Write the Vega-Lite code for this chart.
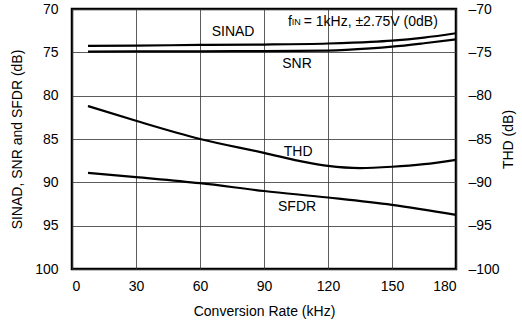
{
  "$schema": "https://vega.github.io/schema/vega-lite/v6.json",
  "width": 384,
  "height": 260,
  "autosize": "none",
  "padding": {"left": 72, "top": 9, "right": 66, "bottom": 54},
  "background": "white",
  "config": {
    "view": {"stroke": "black", "strokeWidth": 2.5},
    "font": "Liberation Sans",
    "axis": {"labelFont": "Liberation Sans", "titleFont": "Liberation Sans", "labelColor": "black", "titleColor": "black", "titleFontWeight": "normal", "labelFontSize": 14, "titleFontSize": 14, "domain": false, "ticks": false, "gridColor": "#333", "gridOpacity": 0.8, "gridWidth": 1}
  },
  "datasets": {
    "curves": [
      {"rate": 7.5, "db": 74.25, "series": "SINAD"},
      {"rate": 30, "db": 74.22, "series": "SINAD"},
      {"rate": 60, "db": 74.15, "series": "SINAD"},
      {"rate": 90, "db": 74.1, "series": "SINAD"},
      {"rate": 120, "db": 73.98, "series": "SINAD"},
      {"rate": 140, "db": 73.8, "series": "SINAD"},
      {"rate": 150, "db": 73.65, "series": "SINAD"},
      {"rate": 165, "db": 73.3, "series": "SINAD"},
      {"rate": 180, "db": 72.8, "series": "SINAD"},
      {"rate": 7.5, "db": 74.92, "series": "SNR"},
      {"rate": 30, "db": 74.9, "series": "SNR"},
      {"rate": 60, "db": 74.88, "series": "SNR"},
      {"rate": 90, "db": 74.85, "series": "SNR"},
      {"rate": 120, "db": 74.8, "series": "SNR"},
      {"rate": 140, "db": 74.55, "series": "SNR"},
      {"rate": 150, "db": 74.35, "series": "SNR"},
      {"rate": 165, "db": 73.95, "series": "SNR"},
      {"rate": 180, "db": 73.5, "series": "SNR"},
      {"rate": 7.5, "db": 81.2, "series": "THD"},
      {"rate": 30, "db": 82.9, "series": "THD"},
      {"rate": 60, "db": 85.0, "series": "THD"},
      {"rate": 90, "db": 86.6, "series": "THD"},
      {"rate": 110, "db": 87.7, "series": "THD"},
      {"rate": 120, "db": 88.1, "series": "THD"},
      {"rate": 135, "db": 88.35, "series": "THD"},
      {"rate": 150, "db": 88.2, "series": "THD"},
      {"rate": 165, "db": 87.9, "series": "THD"},
      {"rate": 180, "db": 87.4, "series": "THD"},
      {"rate": 7.5, "db": 88.9, "series": "SFDR"},
      {"rate": 30, "db": 89.4, "series": "SFDR"},
      {"rate": 60, "db": 90.1, "series": "SFDR"},
      {"rate": 90, "db": 91.0, "series": "SFDR"},
      {"rate": 120, "db": 91.75, "series": "SFDR"},
      {"rate": 150, "db": 92.6, "series": "SFDR"},
      {"rate": 180, "db": 93.75, "series": "SFDR"}
    ],
    "labels": [
      {"rate": 75.5, "db": 72.6, "text": "SINAD"},
      {"rate": 105.5, "db": 76.3, "text": "SNR"},
      {"rate": 106, "db": 86.5, "text": "THD"},
      {"rate": 105.5, "db": 92.8, "text": "SFDR"}
    ],
    "note": [
      {"rate": 101.2, "db": 71.5, "text": "f", "size": 14, "dy": 0},
      {"rate": 103.0, "db": 71.5, "text": "IN", "size": 9, "dy": 4},
      {"rate": 108.6, "db": 71.5, "text": "= 1kHz, ±2.75V (0dB)", "size": 14, "dy": 0}
    ]
  },
  "layer": [
    {
      "data": {"name": "curves"},
      "mark": {"type": "line", "color": "black", "strokeWidth": 2.2, "interpolate": "monotone"},
      "encoding": {
        "x": {"field": "rate", "type": "quantitative", "scale": {"domain": [0, 180], "nice": false}, "axis": {"values": [0, 30, 60, 90, 120, 150, 180], "title": "Conversion Rate (kHz)", "labelPadding": 10, "titlePadding": 11, "grid": true}},
        "y": {"field": "db", "type": "quantitative", "scale": {"domain": [70, 100], "reverse": true, "nice": false}, "axis": {"orient": "left", "values": [70, 75, 80, 85, 90, 95, 100], "title": "SINAD, SNR and SFDR (dB)", "labelPadding": 14, "titlePadding": 10, "grid": true}},
        "detail": {"field": "series"}
      }
    },
    {
      "data": {"name": "labels"},
      "mark": {"type": "text", "color": "black", "fontSize": 14, "baseline": "middle"},
      "encoding": {
        "x": {"field": "rate", "type": "quantitative"},
        "y": {"field": "db", "type": "quantitative", "axis": {"orient": "right", "values": [70, 75, 80, 85, 90, 95, 100], "labelExpr": "'–' + datum.label", "title": "THD (dB)", "titleAngle": 270, "labelPadding": 12, "titlePadding": 16, "grid": false, "labelAlign": "left"}},
        "text": {"field": "text"}
      }
    },
    {
      "data": {"name": "note"},
      "mark": {"type": "text", "color": "black", "baseline": "middle", "align": "left"},
      "encoding": {
        "x": {"field": "rate", "type": "quantitative"},
        "y": {"field": "db", "type": "quantitative", "axis": null},
        "text": {"field": "text"},
        "size": {"field": "size", "type": "quantitative", "scale": null, "legend": null},
        "yOffset": {"field": "dy", "type": "quantitative", "scale": null}
      }
    }
  ],
  "resolve": {"axis": {"y": "independent"}}
}
